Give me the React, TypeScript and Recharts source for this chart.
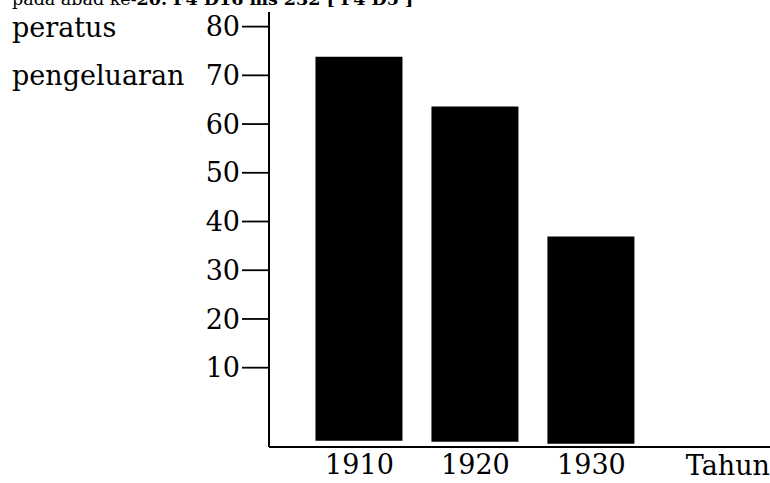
import { BarChart, Bar, XAxis, YAxis } from 'recharts';

// years on the x axis and the percentage
const years = [1910, 1920, 1930];
const percentValues = [73.8, 63.6, 36.9];
// the hand-drawn bars start a little below the zero level
const barBase = [-5.0, -5.2, -5.6];
const yTicks = [10, 20, 30, 40, 50, 60, 70, 80];

const rows = years.map((year, i) => ({ year, range: [barBase[i], percentValues[i]] }));

const serif = "'DejaVu Serif', serif";
const tickStyle = { fill: '#000', fontSize: 27, fontFamily: serif };

const App = () => {
  return (
    <div style={{ position: 'relative', width: 770, height: 483, overflow: 'hidden', background: '#fff' }}>
      <style>{'body{margin:0}'}</style>
      <BarChart width={770} height={483} data={rows} margin={{ top: 12, right: 0, left: 0, bottom: 0 }}>
        <XAxis
          dataKey="year"
          type="number"
          domain={[1902.2, 1945.4]}
          ticks={years}
          height={36}
          tickLine={false}
          tickSize={6}
          axisLine={{ stroke: '#000', strokeWidth: 2 }}
          tick={tickStyle}
          label={{ value: 'Tahun', position: 'insideRight', offset: 0, fill: '#000', fontSize: 27, fontFamily: serif }}
        />
        <YAxis
          type="number"
          domain={[-6.28, 83]}
          ticks={yTicks}
          width={269}
          tickSize={27}
          axisLine={{ stroke: '#000', strokeWidth: 2 }}
          tickLine={{ stroke: '#000', strokeWidth: 1.8 }}
          tick={tickStyle}
        />
        <Bar dataKey="range" barSize={87} fill="#000" isAnimationActive={false} />
      </BarChart>
      <svg width={770} height={483} style={{ position: 'absolute', left: 0, top: 0, pointerEvents: 'none' }}>
        {/* caption line, cut off by the top edge as in the scan */}
        <text x={12} y={5} fontFamily={serif} fontSize={17.5} fill="#000">
          pada abad ke-<tspan fontWeight="bold">20.  F4 D16 ms 232 [ F4 D5 ]</tspan>
        </text>
        <text x={12} y={37} fontFamily={serif} fontSize={27} fill="#000">peratus</text>
        <text x={12} y={85} fontFamily={serif} fontSize={27} fill="#000">pengeluaran</text>
      </svg>
    </div>
  );
};

export default App;
